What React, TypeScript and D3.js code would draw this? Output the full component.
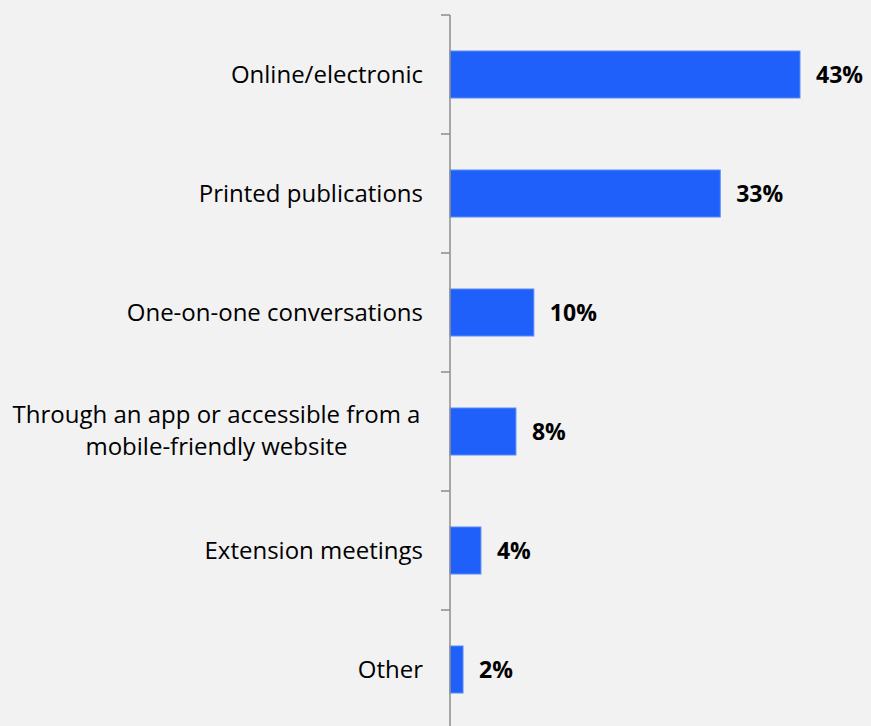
import React from "react";
import * as d3 from "d3";

const categories: string[][] = [
  ["Online/electronic"],
  ["Printed publications"],
  ["One-on-one conversations"],
  ["Through an app or accessible from a", "mobile-friendly website"],
  ["Extension meetings"],
  ["Other"],
];
const values: number[] = [43, 33.2, 10.3, 8.1, 3.8, 1.6];
const valueLabels: string[] = ["43%", "33%", "10%", "8%", "4%", "2%"];

const W = 871;
const H = 726;
const AXIS_X = 450;
const TOP = 15;
const BAND = 119;
const FONT = "'Open Sans', 'Noto Sans', sans-serif";

export default function App() {
  const y = d3
    .scaleBand<number>()
    .domain(d3.range(categories.length))
    .range([TOP, TOP + BAND * categories.length])
    .paddingInner(0.605)
    .paddingOuter(0.3025);
  const x = d3.scaleLinear().domain([0, 43]).range([AXIS_X, 800]);
  const ticks = d3.range(categories.length + 1).map((i) => TOP + i * BAND);
  const lineH = 32;

  return (
    <div style={{ position: "fixed", left: 0, top: 0, width: W, height: H }}>
      <svg width={W} height={H} style={{ display: "block", background: "#f2f2f2" }}>
        {values.map((v, i) => (
          <rect
            key={i}
            x={x(0)}
            y={y(i)!}
            width={x(v) - x(0)}
            height={y.bandwidth()}
            fill="#1f5ffa"
            stroke="#5c8cf5"
            strokeWidth={1}
          />
        ))}
        <line x1={AXIS_X} x2={AXIS_X} y1={TOP} y2={H + 10} stroke="#8c8c8c" strokeWidth={1.5} />
        {ticks.map((t, i) => (
          <line key={i} x1={AXIS_X - 9} x2={AXIS_X} y1={t} y2={t} stroke="#8c8c8c" strokeWidth={1.5} />
        ))}
        {categories.map((lines, i) => {
          const cy = y(i)! + y.bandwidth() / 2;
          if (lines.length === 1) {
            return (
              <text
                key={i}
                x={423}
                y={cy}
                dy="0.35em"
                textAnchor="end"
                fontFamily={FONT}
                fontSize={24}
                fill="#000"
              >
                {lines[0]}
              </text>
            );
          }
          const center = 216.5;
          return (
            <text key={i} textAnchor="middle" fontFamily={FONT} fontSize={24} fill="#000">
              {lines.map((l, j) => (
                <tspan key={j} x={center} y={cy - 1 + (j - (lines.length - 1) / 2) * lineH} dy="0.35em">
                  {l}
                </tspan>
              ))}
            </text>
          );
        })}
        {values.map((v, i) => (
          <text
            key={i}
            x={x(v) + 16}
            y={y(i)! + y.bandwidth() / 2}
            dy="0.36em"
            fontFamily={FONT}
            fontSize={23}
            fontWeight="bold"
            fill="#000"
          >
            {valueLabels[i]}
          </text>
        ))}
      </svg>
    </div>
  );
}
